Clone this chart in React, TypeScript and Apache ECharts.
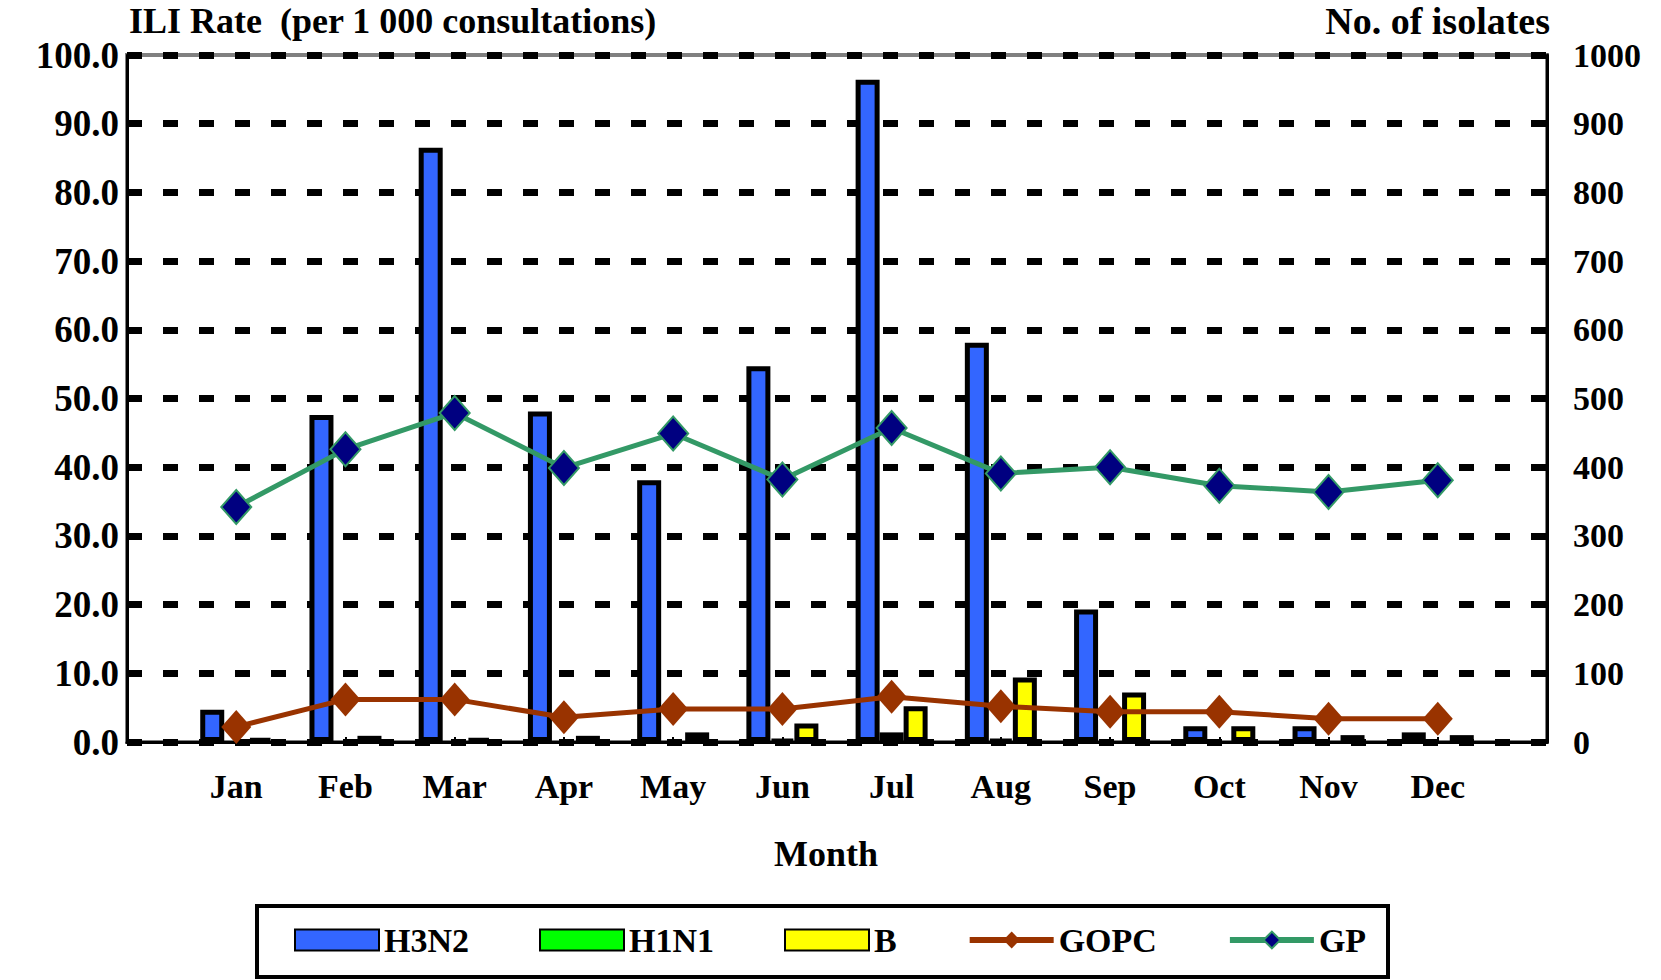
import React, { useEffect, useRef } from "react";
import * as echarts from "echarts";

const months = ["Jan", "Feb", "Mar", "Apr", "May", "Jun", "Jul", "Aug", "Sep", "Oct", "Nov", "Dec"];
// isolates (right axis)
const h3n2 = [47, 476, 865, 481, 381, 547, 964, 581, 193, 23, 23, 14];
const h1n1 = [0, 0, 0, 0, 0, 3, 14, 3, 0, 0, 0, 0];
const fluB = [5, 9, 5, 9, 14, 27, 52, 94, 72, 23, 10, 10];
// ILI rate (left axis)
const gopc = [2.2, 6.2, 6.2, 3.6, 4.8, 4.8, 6.6, 5.2, 4.4, 4.4, 3.4, 3.4];
const gp = [34.2, 42.6, 47.9, 39.9, 44.9, 38.2, 45.7, 39.1, 40.0, 37.3, 36.4, 38.1];

const leftTicks = { min: 0, max: 100, interval: 10 };
const rightTicks = { min: 0, max: 1000, interval: 100 };

const FONT = "Liberation Serif";

// padded category axis: one empty slot on each side of the months
const categories = ["", ...months, ""];
const pad = (arr: number[]) => ["-", ...arr.map((v) => (v === 0 ? "-" : v)), "-"];

export default function App() {
  const ref = useRef<HTMLDivElement>(null);

  useEffect(() => {
    document.body.style.margin = "0";
    const chart = echarts.init(ref.current!, null, { renderer: "svg" });
    const txt = { fontFamily: FONT, fontWeight: "bold" as const, fontSize: 34, color: "#000" };
    const barItem = (color: string) => ({ color, borderColor: "#000", borderWidth: 5 });

    chart.setOption({
      animation: false,
      backgroundColor: "#fff",
      grid: {
        left: 127,
        right: 114,
        top: 55,
        bottom: 238,
        show: true,
        borderColor: "#808080",
        borderWidth: 4,
        backgroundColor: "#fff",
      },
      xAxis: {
        type: "category",
        data: categories,
        boundaryGap: false,
        axisLine: { show: true, lineStyle: { color: "#000", width: 3 } },
        axisTick: { show: true, inside: true, length: 5, lineStyle: { color: "#000", width: 2 } },
        axisLabel: { ...txt, margin: 27, interval: 0 },
        splitLine: { show: false },
      },
      yAxis: [
        {
          type: "value",
          position: "left",
          ...leftTicks,
          axisLine: { show: true, lineStyle: { color: "#000", width: 3 } },
          axisTick: { show: false },
          axisLabel: { ...txt, fontSize: 37, margin: 8, formatter: (v: number) => v.toFixed(1) },
          splitLine: { show: true, lineStyle: { color: "#000", width: 7, type: [15, 21] } },
        },
        {
          type: "value",
          position: "right",
          ...rightTicks,
          axisLine: { show: true, lineStyle: { color: "#000", width: 3 } },
          axisTick: { show: false },
          axisLabel: { ...txt, margin: 26, formatter: (v: number) => String(v) },
          splitLine: { show: false },
        },
      ],
      legend: {
        left: 289,
        top: 918,
        itemWidth: 84,
        itemHeight: 21,
        itemGap: 70,
        textStyle: { ...txt },
        data: [
          { name: "H3N2", icon: "rect" },
          { name: "H1N1", icon: "rect" },
          { name: "B", icon: "rect" },
          { name: "GOPC", lineStyle: { width: 6 } },
          { name: "GP", lineStyle: { width: 6 } },
        ],
      },
      graphic: [
        {
          type: "text",
          left: 129,
          top: 3,
          style: { text: "ILI Rate  (per 1 000 consultations)", font: `bold 36px "${FONT}"`, fill: "#000" },
        },
        {
          type: "text",
          right: 111,
          top: 2,
          style: { text: "No. of isolates", font: `bold 38px "${FONT}"`, fill: "#000" },
        },
        {
          type: "text",
          x: 826,
          y: 854,
          style: {
            text: "Month",
            font: `bold 36px "${FONT}"`,
            fill: "#000",
            align: "center",
            verticalAlign: "middle",
          },
        },
        {
          type: "rect",
          shape: { x: 257, y: 906, width: 1131, height: 71 },
          style: { fill: "transparent", stroke: "#000", lineWidth: 4 },
          z: 10,
        },
      ],
      series: [
        {
          name: "H3N2",
          type: "bar",
          yAxisIndex: 1,
          barWidth: 24,
          barGap: "0%",
          data: pad(h3n2),
          itemStyle: barItem("#3366FF"),
        },
        {
          name: "H1N1",
          type: "bar",
          yAxisIndex: 1,
          barWidth: 24,
          barGap: "0%",
          data: pad(h1n1),
          itemStyle: barItem("#00FF00"),
        },
        {
          name: "B",
          type: "bar",
          yAxisIndex: 1,
          barWidth: 24,
          barGap: "0%",
          data: pad(fluB),
          itemStyle: barItem("#FFFF00"),
        },
        {
          name: "GOPC",
          type: "line",
          yAxisIndex: 0,
          data: ["-", ...gopc, "-"],
          symbol: "diamond",
          symbolSize: [30, 34],
          lineStyle: { color: "#993300", width: 5 },
          itemStyle: { color: "#993300" },
          z: 5,
        },
        {
          name: "GP",
          type: "line",
          yAxisIndex: 0,
          data: ["-", ...gp, "-"],
          symbol: "diamond",
          symbolSize: [30, 34],
          lineStyle: { color: "#339966", width: 5 },
          itemStyle: { color: "#000080", borderColor: "#339966", borderWidth: 2 },
          z: 5,
        },
      ],
    });
    return () => chart.dispose();
  }, []);

  return <div ref={ref} style={{ width: 1661, height: 980 }} />;
}
